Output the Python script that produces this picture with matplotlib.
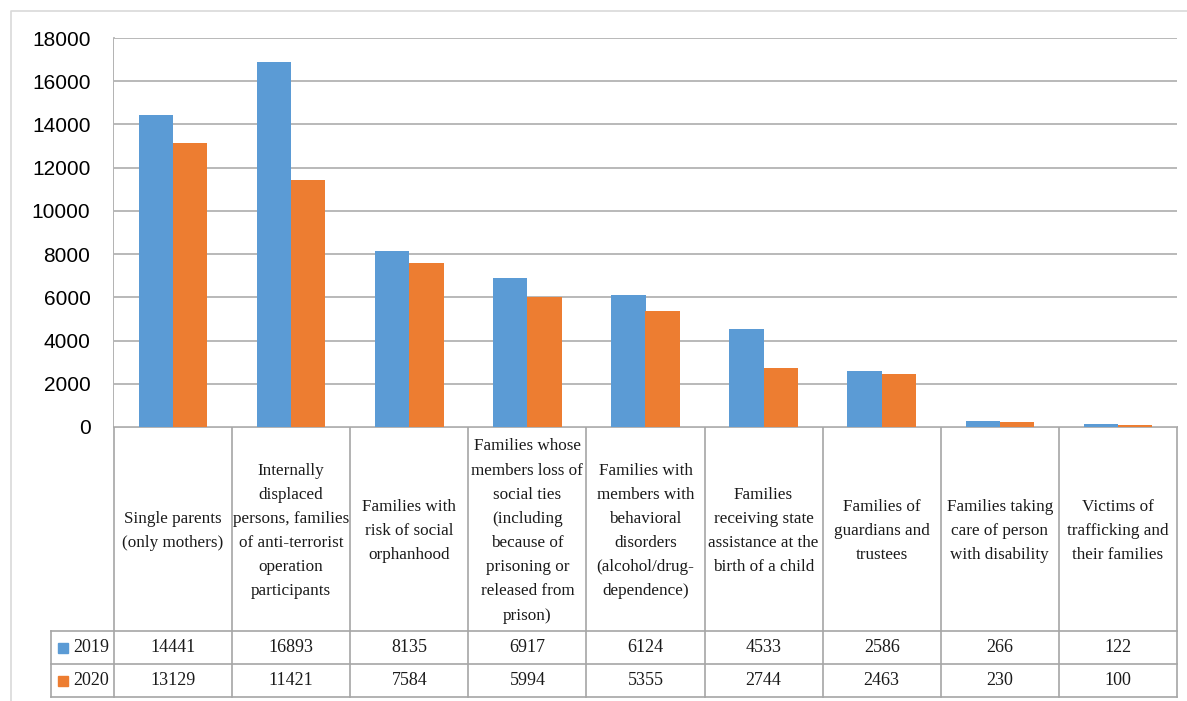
import matplotlib.pyplot as plt
import numpy as np

categories = [
    "Single parents\n(only mothers)",
    "Internally\ndisplaced\npersons, families\nof anti-terrorist\noperation\nparticipants",
    "Families with\nrisk of social\norphanhood",
    "Families whose\nmembers loss of\nsocial ties\n(including\nbecause of\nprisoning or\nreleased from\nprison)",
    "Families with\nmembers with\nbehavioral\ndisorders\n(alcohol/drug-\ndependence)",
    "Families\nreceiving state\nassistance at the\nbirth of a child",
    "Families of\nguardians and\ntrustees",
    "Families taking\ncare of person\nwith disability",
    "Victims of\ntrafficking and\ntheir families",
]
series_names = ["2019", "2020"]
values_2019 = [14441, 16893, 8135, 6917, 6124, 4533, 2586, 266, 122]
values_2020 = [13129, 11421, 7584, 5994, 5355, 2744, 2463, 230, 100]
yticks = [0, 2000, 4000, 6000, 8000, 10000, 12000, 14000, 16000, 18000]

blue = "#5b9bd5"
orange = "#ed7d31"
line_c = "#a6a6a6"
serif = "Liberation Serif"

W, H = 1187, 701
fig = plt.figure(figsize=(W / 100, H / 100), dpi=100)

# overlay in pixel coords for the frame and the data table
ov = fig.add_axes([0, 0, 1, 1])
ov.set_xlim(0, W)
ov.set_ylim(H, 0)
ov.axis("off")

x0, x1 = 114, 1177
y_top, y_zero = 38, 427
y_r1, y_r2, y_bot = 631, 664, 697
x_leg = 51

ax = fig.add_axes([x0 / W, 1 - y_zero / H, (x1 - x0) / W, (y_zero - y_top) / H])
x = np.arange(len(categories))
bw = 0.29
ax.bar(x - bw / 2, values_2019, bw, color=blue, zorder=3)
ax.bar(x + bw / 2, values_2020, bw, color=orange, zorder=3)
ax.set_xlim(-0.5, len(categories) - 0.5)
ax.set_ylim(0, 18000)
ax.set_yticks(yticks)
ax.set_yticklabels([str(v) for v in yticks], fontfamily="Liberation Sans", fontsize=15)
ax.tick_params(axis="y", length=0, pad=17)
ax.set_xticks([])
ax.grid(axis="y", color="#b3b3b3", lw=1.3, zorder=0)
for s in ax.spines.values():
    s.set_visible(False)

# outer chart border
ov.plot([11, 11, W + 5], [H + 5, 11, 11], color="#d9d9d9", lw=1.2)

# table grid
ncol = len(categories)
cw = (x1 - x0) / ncol
ov.plot([x0, x0], [y_top, y_bot], color=line_c, lw=1.2)
ov.plot([x0, x1], [y_zero, y_zero], color=line_c, lw=1.2)
for i in range(1, ncol + 1):
    xx = x0 + i * cw
    ov.plot([xx, xx], [y_zero, y_bot], color=line_c, lw=1.2)
for yy in (y_r1, y_r2, y_bot):
    ov.plot([x_leg, x1], [yy, yy], color=line_c, lw=1.2)
ov.plot([x_leg, x_leg], [y_r1, y_bot], color=line_c, lw=1.2)

# header text
for i, lab in enumerate(categories):
    ov.text(x0 + (i + 0.5) * cw, (y_zero + y_r1) / 2 + 2, lab, ha="center", va="center",
            fontfamily=serif, fontsize=12.3, linespacing=1.68, color="#1a1a1a")

# value rows with legend keys
for row, (name, vals, col) in enumerate([(series_names[0], values_2019, blue),
                                         (series_names[1], values_2020, orange)]):
    yc = (y_r1 + y_r2) / 2 if row == 0 else (y_r2 + y_bot) / 2
    ov.add_patch(plt.Rectangle((58, yc - 5), 10, 10, color=col))
    ov.text(73, yc, name, ha="left", va="center", fontfamily=serif, fontsize=13, color="#1a1a1a")
    for i, v in enumerate(vals):
        ov.text(x0 + (i + 0.5) * cw, yc, str(v), ha="center", va="center",
                fontfamily=serif, fontsize=13, color="#1a1a1a")

fig.savefig("out.png", dpi=100)
